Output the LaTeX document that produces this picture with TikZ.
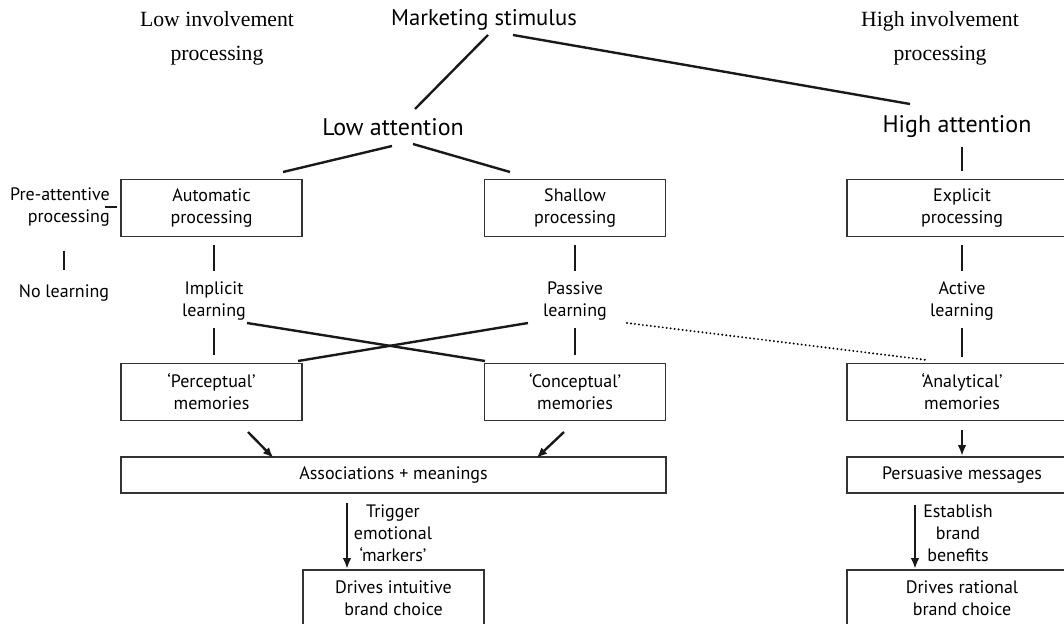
\documentclass[tikz,border=0pt]{standalone}
\usepackage{fontspec}
\setmainfont{Liberation Serif}
\setsansfont{PT Sans}
\usetikzlibrary{calc,arrows.meta}

\begin{document}
\begin{tikzpicture}[x=0.75pt,y=-0.75pt,
        every node/.style={text=black},
        box/.style={draw=black!80,line width=1pt,minimum width=135.75pt,minimum height=42.75pt,align=center,font=\sffamily\fontsize{13.5}{16.5}\selectfont},
        wideBox/.style={box,minimum width=172.5pt},
        flatBox/.style={minimum height=27pt},
        plainText/.style={inner sep=0pt,align=center,font=\sffamily\fontsize{13.5}{16.5}\selectfont},
        headText/.style={inner sep=0pt,font=\sffamily\fontsize{18}{22}\selectfont},
        sideText/.style={inner sep=0pt,align=center,font=\fontsize{16.3}{25.5}\selectfont},
        link/.style={line width=1.8pt,draw=black!90},
        arrowLink/.style={link,-{Latex[length=8pt,width=6.5pt]}},
        hint/.style={line width=1.6pt,line cap=round,dash pattern=on 0pt off 3pt}
        ]
        \clip (0,0) rectangle (1064,624);

        \node[headText,font=\sffamily\fontsize{17}{20}\selectfont] (stimulus) at (484,20) {Marketing stimulus};
        \node[sideText] (lowInv) at (217,38) {Low involvement\\processing};
        \node[sideText] (highInv) at (940,38) {High involvement\\processing};
        \node[headText] (lowAtt) at (393,127) {Low attention};
        \node[headText] (highAtt) at (957,127) {High attention};

        \node[box] (auto) at (211.5,208) {Automatic\\processing};
        \node[box] (shallow) at (575,208) {Shallow\\processing};
        \node[wideBox] (explicit) at (962,208) {Explicit\\processing};
        \node[plainText,align=right,anchor=east] (preAtt) at (110,207) {Pre-attentive\\processing};
        \node[plainText] (noLearn) at (64,293) {No learning};

        \node[plainText] (implicit) at (214,301) {Implicit\\learning};
        \node[plainText] (passive) at (575,301) {Passive\\learning};
        \node[plainText] (active) at (962,301) {Active\\learning};

        \node[box] (perc) at (211.5,392) {‘Perceptual’\\memories};
        \node[box] (conc) at (575,392) {‘Conceptual’\\memories};
        \node[wideBox] (anal) at (962,392) {‘Analytical’\\memories};

        \node[box,flatBox,minimum width=408.75pt] (assoc) at (393.5,475) {Associations + meanings};
        \node[wideBox,flatBox] (pers) at (962,475) {Persuasive messages};

        \node[box] (intuit) at (393.5,598.5) {Drives intuitive\\brand choice};
        \node[wideBox] (rational) at (962,598.5) {Drives rational\\brand choice};
        \node[plainText] (trigger) at (393,533) {Trigger\\emotional\\‘markers’};
        \node[plainText] (establish) at (958,533) {Establish\\brand\\benefits};

        \draw[link] ($(stimulus)+(4,15)$) -- ($(lowAtt)+(22,-18)$);
        \draw[link] ($(stimulus)+(29,15)$) -- ($(highAtt)+(-47,-23)$);
        \draw[link] ($(lowAtt)+(-1,19)$) -- ($(auto)+(71.5,-36)$);
        \draw[link] ($(lowAtt)+(20,17)$) -- ($(shallow)+(-65,-36)$);
        \draw[link] ($(highAtt)+(5,20)$) -- ($(explicit)+(0,-37)$);

        \draw[link] ($(preAtt.east)+(-5,0)$) -- ($(auto.west)+(-3,-1)$);
        \draw[link] ($(preAtt.south -| noLearn)+(0,24)$) -- ($(noLearn)+(0,-23)$);
        \draw[link] ($(auto)+(2.5,37)$) -- ($(implicit)+(0,-30)$);
        \draw[link] ($(shallow)+(0,37)$) -- ($(passive)+(0,-30)$);
        \draw[link] ($(explicit)+(0,37)$) -- ($(active)+(0,-30)$);

        \draw[link] ($(implicit)+(0,27)$) -- ($(perc)+(2.5,-37)$);
        \draw[link] ($(implicit)+(33,22)$) -- ($(conc)+(-90,-31)$);
        \draw[link] ($(passive)+(-47,22)$) -- ($(perc)+(86.5,-31)$);
        \draw[link] ($(passive)+(0,27)$) -- ($(conc)+(0,-37)$);
        \draw[link] ($(active)+(0,27)$) -- ($(anal)+(0,-35)$);
        \draw[hint] ($(passive)+(52,22)$) -- ($(anal)+(-35,-32)$);

        \draw[arrowLink] ($(perc)+(36.5,40)$) -- ($(assoc)+(-120,-17)$);
        \draw[arrowLink] ($(conc)+(-11,40)$) -- ($(assoc)+(143,-17)$);
        \draw[arrowLink] ($(anal)+(0,38)$) -- ($(pers.north)+(0,-0.5)$);
        \draw[arrowLink] ($(assoc)+(-46.5,28)$) -- ($(intuit.north)+(-46.5,-0.5)$);
        \draw[arrowLink] ($(pers)+(-47,30)$) -- ($(rational.north)+(-47,-0.5)$);
    \end{tikzpicture}
\end{document}
